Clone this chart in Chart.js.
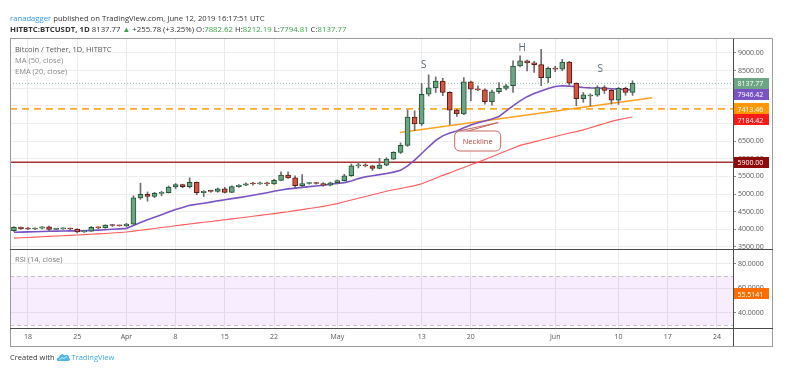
<!DOCTYPE html>
<html>
<head>
<meta charset="utf-8">
<script src="https://cdn.jsdelivr.net/npm/chart.js@4.4.1/dist/chart.umd.min.js"></script>
<style>
  body { margin: 0; background: #fff; font-family: "Open Sans", sans-serif; }
  #wrap { position: relative; width: 800px; height: 371px; overflow: hidden; }
  canvas { position: absolute; left: 0; top: 0; }
  .t { position: absolute; white-space: nowrap; font-size: 7.5px; line-height: 10px; color: #333; }
  .g { color: #3aa34a; }
  .ln { position: absolute; pointer-events: none; z-index: 5; }
</style>
</head>
<body>
<div id="wrap">
  <canvas id="chart" width="800" height="371"></canvas>
  <div class="ln" style="left:10px;top:38px;width:761px;height:307px;border:1px solid #9a9a9a"></div>
  <div class="ln" style="left:10px;top:249px;width:763px;height:1px;background:#4a4a4a"></div>
  <div class="ln" style="left:10px;top:328px;width:763px;height:1px;background:#4a4a4a"></div>
  <div class="t" style="left:10px;top:13px;font-size:7.7px"><span style="color:#2f9cef">ranadagger</span> published on TradingView.com, June 12, 2019 16:17:51 UTC</div>
  <div class="t" style="left:10px;top:24px;font-size:7.8px"><b>HITBTC:BTCUSDT, 1D</b> 8137.77 <span class="g">&#9650;</span> +255.78 (+3.25%) O:<span class="g">7882.62</span> H:<span class="g">8212.19</span> L:<span class="g">7794.81</span> C:<span class="g">8137.77</span></div>
  <div class="t" style="left:15px;top:44px;color:#555">Bitcoin / Tether, 1D, HITBTC</div>
  <div class="t" style="left:15px;top:55px;color:#888">MA (50, close)</div>
  <div class="t" style="left:15px;top:66px;color:#888">EMA (20, close)</div>
  <div class="t" style="left:15px;top:254px;color:#777">RSI (14, close)</div>
  <div class="t" style="left:10px;top:352px">Created with
    <svg width="13" height="8" viewBox="0 0 13 8" style="vertical-align:-1px"><path d="M1 8 C-1 8 -0.5 4.5 2 4.5 C2 1.5 6 0 7.5 2.5 C9 1 12.5 2 12 5 C13.5 5.5 13 8 11 8 Z" fill="#4bb4ea"/><path d="M2.5 6.5 L5 4.5 L7 5.5 L10 3.5" stroke="#fff" stroke-width="0.8" fill="none"/></svg>
    <span style="color:#3aa8e6">TradingView</span></div>
</div>
<script>
// daily candles, HITBTC BTCUSDT (MM-DD, 2019)
const dates = [
  '03-16','03-17','03-18','03-19','03-20','03-21','03-22','03-23','03-24','03-25','03-26','03-27','03-28','03-29','03-30','03-31',
  '04-01','04-02','04-03','04-04','04-05','04-06','04-07','04-08','04-09','04-10','04-11','04-12','04-13','04-14','04-15',
  '04-16','04-17','04-18','04-19','04-20','04-21','04-22','04-23','04-24','04-25','04-26','04-27','04-28','04-29','04-30',
  '05-01','05-02','05-03','05-04','05-05','05-06','05-07','05-08','05-09','05-10','05-11','05-12','05-13','05-14','05-15',
  '05-16','05-17','05-18','05-19','05-20','05-21','05-22','05-23','05-24','05-25','05-26','05-27','05-28','05-29','05-30','05-31',
  '06-01','06-02','06-03','06-04','06-05','06-06','06-07','06-08','06-09','06-10','06-11','06-12'
];
const open = [
  3960,4060,4020,4010,4030,4070,4000,4015,4030,4010,3930,3950,4060,4040,4120,4110,
  4100,4150,4890,4990,4930,5020,5040,5200,5270,5210,5330,5040,5080,5075,5150,
  5050,5210,5250,5290,5285,5320,5290,5390,5540,5460,5240,5300,5310,5300,5250,
  5320,5380,5520,5800,5830,5800,5730,5820,5990,6180,6380,7180,6990,7830,8010,
  8200,7880,7380,7270,8180,7975,7955,7620,7900,7995,8070,8630,8775,8720,8670,8300,
  8560,8540,8740,8140,7700,7780,7800,8020,7940,7660,8000,7882.62
];
const high = [
  4080,4070,4060,4040,4080,4090,4030,4040,4040,4020,3960,4080,4070,4130,4140,4120,
  4170,4950,5310,5060,5050,5080,5230,5300,5280,5460,5340,5100,5110,5170,5190,
  5230,5270,5320,5330,5340,5340,5420,5630,5630,5520,5550,5330,5330,5320,5340,
  5400,5560,5850,5900,5860,5810,6010,6030,6200,6450,7380,7360,8135,8380,8320,
  8280,7900,7400,8300,8200,8070,7980,7950,8160,8110,8775,8915,8800,8760,9100,8600,
  8620,8820,8760,8150,7880,7840,8070,8070,7980,8020,8030,8212.19
];
const low = [
  3940,4000,3990,3990,4010,3960,3990,4000,3990,3900,3910,3940,4020,4030,4080,4090,
  4080,4140,4850,4800,4900,4950,5030,5150,5180,5170,4980,4930,5050,5050,5030,
  5040,5190,5240,5250,5270,5240,5270,5380,5440,5170,5200,5280,5280,5220,5230,
  5300,5370,5500,5740,5770,5670,5720,5800,5980,6150,6350,6800,6940,7780,7880,
  7790,6970,7200,7250,7650,7930,7550,7520,7850,7950,7880,8600,8490,8450,8070,8160,
  8470,8500,8100,7505,7600,7500,7770,7850,7550,7540,7800,7794.81
];
const close = [
  4060,4020,4010,4030,4070,4000,4015,4030,4010,3930,3950,4060,4040,4120,4110,4100,
  4150,4890,4990,4930,5020,5040,5200,5270,5210,5330,5040,5080,5075,5150,5050,
  5210,5250,5290,5285,5320,5290,5390,5540,5460,5240,5300,5310,5300,5250,5320,
  5380,5520,5800,5830,5800,5730,5820,5990,6180,6380,7180,6990,7830,8010,8200,
  7880,7380,7270,8180,7975,7955,7620,7900,7995,8070,8630,8775,8720,8670,8300,8560,
  8540,8740,8140,7700,7810,7800,8020,7940,7660,8000,7882.62,8137.77
];
const ema20 = [
  3916,3922,3928,3934,3941,3946,3950,3954,3957,3958,3960,3968,3977,3990,4002,4013,
  4028,4110,4195,4270,4345,4415,4490,4565,4620,4680,4710,4740,4772,4808,4838,
  4870,4900,4932,4965,5000,5038,5078,5115,5148,5168,5190,5210,5230,5250,5278,
  5300,5325,5372,5438,5488,5520,5552,5583,5622,5672,5800,5960,6150,6340,6520,
  6650,6730,6790,6880,6960,7020,7070,7130,7200,7350,7500,7640,7760,7850,7920,7990,
  8050,8070,8060,8040,8020,8010,8005,7995,7985,7975,7962,7946.42
];
const ma50 = [
  3750,3760,3770,3779,3790,3800,3811,3820,3830,3841,3850,3860,3871,3882,3895,3910,
  3925,3950,3976,4000,4025,4051,4075,4100,4126,4150,4176,4200,4222,4246,4270,
  4296,4320,4345,4371,4395,4420,4446,4475,4500,4530,4560,4591,4620,4650,4690,
  4730,4780,4830,4880,4930,4980,5030,5080,5120,5160,5200,5240,5290,5370,5450,
  5530,5600,5680,5750,5830,5900,5980,6060,6140,6220,6300,6380,6430,6480,6530,6580,
  6630,6680,6730,6770,6820,6880,6940,7000,7060,7110,7150,7184.42
];
const rsi14 = [
  64.2,61.5,61.5,63.4,64.8,58.8,58.8,60.4,58.2,52.8,52.8,61,59.9,65.6,65.6,65,
  68.3,87.3,87.9,84.6,85,85.7,86.3,88.4,81.9,83.8,67.5,68,68,70.2,64.8,
  68,69.1,70.2,70.5,71.6,68.8,71.8,74.6,69.6,59.3,62,61.2,61.2,58,61.2,
  63.7,66.9,73.2,74.6,71,69.6,72.4,76.5,80.5,82.5,87.9,81.4,86.8,87.3,87.9,
  79.2,66.9,64.8,72.4,68.3,68.3,63.4,65,66.1,66.9,72.4,73.2,73,71.6,63.4,66.1,
  65.6,67.5,56.1,49.2,51.2,51.2,53.9,52.8,48.4,53.9,51.7,55.5141
];

const tickDates  = ['03-18','03-25','04-01','04-08','04-15','04-22','05-01','05-13','05-20','06-01','06-10','06-17','06-24'];
const tickLabels = ['18','25','Apr','8','15','22','May','13','20','Jun','10','17','24'];
const priceTicks = [3500, 4000, 4500, 5000, 5500, 6000, 6500, 7000, 7500, 8000, 8500, 9000];
const rsiTicks = [40, 60, 80];

const lastPrice = 8137.77;
const dashedLevel = 7413.46;
const supportLevel = 5900.00;
const rsiBand = [30, 70];
// neckline drawn between two day/price points (day 0 = Mar 18)
const necklineDays = [52.9, 88.8];
const necklinePrices = [6743, 7731];

const notes = [
  { text: 'S', day: 56.3, price: 8662 },
  { text: 'H', day: 70.3, price: 9141 },
  { text: 'S', day: 81.4, price: 8549 }
];
const callout = { text: 'Neckline', day: 63.9, price: 6518, tipDay: 66.9, tipPrice: 7026 };

const dayOf = s => (Date.UTC(2019, +s.slice(0, 2) - 1, +s.slice(3)) - Date.UTC(2019, 2, 18)) / 864e5;
const days = dates.map(dayOf);
const tickDays = tickDates.map(dayOf);
const xMin = -2.56, xMax = 100.29;
const axisW = 39, axisH = 18;

const up = days.map((d, i) => close[i] >= open[i]);
const span = v => [{ x: xMin, y: v }, { x: xMax, y: v }];

Chart.defaults.font.family = '"Open Sans", sans-serif';

const decor = {
  id: 'decor',
  beforeDatasetsDraw(chart) {
    const { ctx, scales: { x, r } } = chart;
    const top = r.getPixelForValue(rsiBand[1]), bot = r.getPixelForValue(rsiBand[0]);
    ctx.save();
    ctx.fillStyle = 'rgba(153, 21, 255, 0.08)';
    ctx.fillRect(x.left, top, x.right - x.left, bot - top);
    ctx.strokeStyle = '#c8bcd4';
    ctx.lineWidth = 1;
    ctx.setLineDash([4, 3]);
    [top, bot].forEach(y => {
      ctx.beginPath();
      ctx.moveTo(x.left, Math.round(y) + 0.5);
      ctx.lineTo(x.right, Math.round(y) + 0.5);
      ctx.stroke();
    });
    ctx.restore();
  },
  afterDraw(chart) {
    const { ctx, scales: { x, p, r } } = chart;
    const R = Math.round(x.right) + 0.5;
    ctx.save();

    // axis separator below the time labels
    ctx.fillStyle = '#4a4a4a';
    ctx.fillRect(Math.round(x.right), p.top, 1, x.bottom - p.top + 1);

    // S / H / S letters
    ctx.fillStyle = '#5a6b78';
    ctx.font = '10px "Open Sans", sans-serif';
    ctx.textAlign = 'center';
    ctx.textBaseline = 'middle';
    notes.forEach(n => ctx.fillText(n.text, x.getPixelForValue(n.day), p.getPixelForValue(n.price)));

    // neckline callout
    const cx = x.getPixelForValue(callout.day), cy = p.getPixelForValue(callout.price);
    const tx = x.getPixelForValue(callout.tipDay), ty = p.getPixelForValue(callout.tipPrice);
    const w = 46, h = 20, bx = cx - w / 2, by = cy - h / 2;
    ctx.lineWidth = 1;
    ctx.strokeStyle = '#c5665e';
    ctx.fillStyle = 'rgba(255,255,255,0.92)';
    ctx.beginPath();
    ctx.moveTo(bx + 2, by + 1); ctx.lineTo(tx, ty); ctx.lineTo(bx + 12, by + 1);
    ctx.stroke();
    ctx.beginPath();
    ctx.roundRect(bx + 0.5, by + 0.5, w, h, 5);
    ctx.fill(); ctx.stroke();
    ctx.fillStyle = '#b4443b';
    ctx.font = '7.5px "Open Sans", sans-serif';
    ctx.fillText(callout.text, cx + 0.5, cy + 1);

    // value badges on price axis
    const bh = 11;
    const badges = [
      { v: lastPrice, bg: '#6ba583' },
      { v: ema20[ema20.length - 1], bg: '#7b52c4' },
      { v: dashedLevel, bg: '#ff9800' },
      { v: ma50[ma50.length - 1], bg: '#ff1a1a' },
      { v: supportLevel, bg: '#8e0b0b' }
    ];
    ctx.font = '7px "Open Sans", sans-serif';
    ctx.textAlign = 'left';
    let lastBottom = -Infinity;
    badges.forEach(b => {
      let y = p.getPixelForValue(b.v);
      if (y - bh / 2 < lastBottom) y = lastBottom + bh / 2;
      lastBottom = y + bh / 2;
      ctx.fillStyle = b.bg;
      ctx.fillRect(R + 0.5, Math.round(y - bh / 2), 35, bh);
      ctx.fillStyle = '#fff';
      ctx.fillText(b.v.toFixed(2), R + 4, Math.round(y) + 0.5);
    });
    const ry = r.getPixelForValue(rsi14[rsi14.length - 1]);
    ctx.fillStyle = '#ff6d00';
    ctx.fillRect(R + 0.5, Math.round(ry - bh / 2), 35, bh);
    ctx.fillStyle = '#fff';
    ctx.fillText(rsi14[rsi14.length - 1].toFixed(4), R + 4, Math.round(ry) + 0.5);
    ctx.restore();
  }
};

new Chart(document.getElementById('chart'), {
  type: 'bar',
  data: {
    datasets: [
      {
        label: 'wick', yAxisID: 'p', grouped: false, order: 1,
        data: days.map((d, i) => ({ x: d, y: [low[i], high[i]] })),
        backgroundColor: '#6d6d6d', barThickness: 1
      },
      {
        label: 'body', yAxisID: 'p', grouped: false, order: 0,
        data: days.map((d, i) => ({ x: d, y: [open[i], close[i]] })),
        backgroundColor: up.map(u => u ? '#6ba583' : '#d75442'),
        borderColor: up.map(u => u ? '#225437' : '#5b1a13'),
        borderWidth: 1, borderSkipped: false, barThickness: 5, minBarLength: 1
      },
      {
        type: 'line', label: 'EMA 20', yAxisID: 'p', order: 2,
        data: days.map((d, i) => ({ x: d, y: ema20[i] })),
        borderColor: '#7b52c4', borderWidth: 1.6, pointRadius: 0
      },
      {
        type: 'line', label: 'MA 50', yAxisID: 'p', order: 3,
        data: days.map((d, i) => ({ x: d, y: ma50[i] })),
        borderColor: '#ff5a5a', borderWidth: 1.1, pointRadius: 0
      },
      {
        type: 'line', label: 'neckline', yAxisID: 'p', order: 4,
        data: necklineDays.map((d, i) => ({ x: d, y: necklinePrices[i] })),
        borderColor: '#ffa01f', borderWidth: 1.5, pointRadius: 0
      },
      {
        type: 'line', label: 'level', yAxisID: 'p', order: 5,
        data: span(dashedLevel),
        borderColor: '#ffa726', borderWidth: 1.6, borderDash: [7, 5], pointRadius: 0
      },
      {
        type: 'line', label: 'support', yAxisID: 'p', order: 6,
        data: span(supportLevel),
        borderColor: '#a83232', borderWidth: 1.6, pointRadius: 0
      },
      {
        type: 'line', label: 'last', yAxisID: 'p', order: 7,
        data: span(lastPrice),
        borderColor: '#8fc1a2', borderWidth: 1, borderDash: [1, 2], pointRadius: 0
      },
      {
        type: 'line', label: 'RSI', yAxisID: 'r', order: 8,
        data: days.map((d, i) => ({ x: d, y: rsi14[i] })),
        borderColor: '#ff9a55', borderWidth: 1.1, pointRadius: 0
      }
    ]
  },
  options: {
    responsive: false,
    animation: false,
    devicePixelRatio: 1,
    layout: { padding: { left: 10, top: 38, right: 28, bottom: 25 } },
    plugins: { legend: { display: false }, tooltip: { enabled: false } },
    scales: {
      x: {
        type: 'linear', min: xMin, max: xMax, offset: false,
        afterFit: s => { s.height = axisH; },
        afterBuildTicks: s => { s.ticks = tickDays.map(v => ({ value: v })); },
        grid: { color: '#e9e9e9', offset: false, drawTicks: false },
        border: { display: false },
        ticks: {
          autoSkip: false, maxRotation: 0, padding: 5,
          color: '#555', font: { size: 7 },
          callback: (v, i) => tickLabels[i]
        }
      },
      p: {
        position: 'right', stack: 'panes', stackWeight: 211,
        min: 3443, max: 9423,
        afterFit: s => { s.width = axisW; },
        afterBuildTicks: s => { s.ticks = priceTicks.map(v => ({ value: v })); },
        grid: { color: '#eeeeee', tickLength: 3, tickColor: '#888' },
        border: { display: true, color: '#4a4a4a', width: 1 },
        ticks: { autoSkip: false, padding: 2, color: '#555', font: { size: 7 },
          callback: v => v.toFixed(2) }
      },
      r: {
        position: 'right', stack: 'panes', stackWeight: 79,
        min: 27.7, max: 92.2,
        afterFit: s => { s.width = axisW; },
        afterBuildTicks: s => { s.ticks = rsiTicks.map(v => ({ value: v })); },
        grid: { color: '#ececec', tickLength: 3, tickColor: '#888' },
        border: { display: true, color: '#4a4a4a', width: 1 },
        ticks: { autoSkip: false, padding: 2, color: '#555', font: { size: 7 },
          callback: v => v.toFixed(4) }
      }
    }
  },
  plugins: [decor]
});
</script>
</body>
</html>
